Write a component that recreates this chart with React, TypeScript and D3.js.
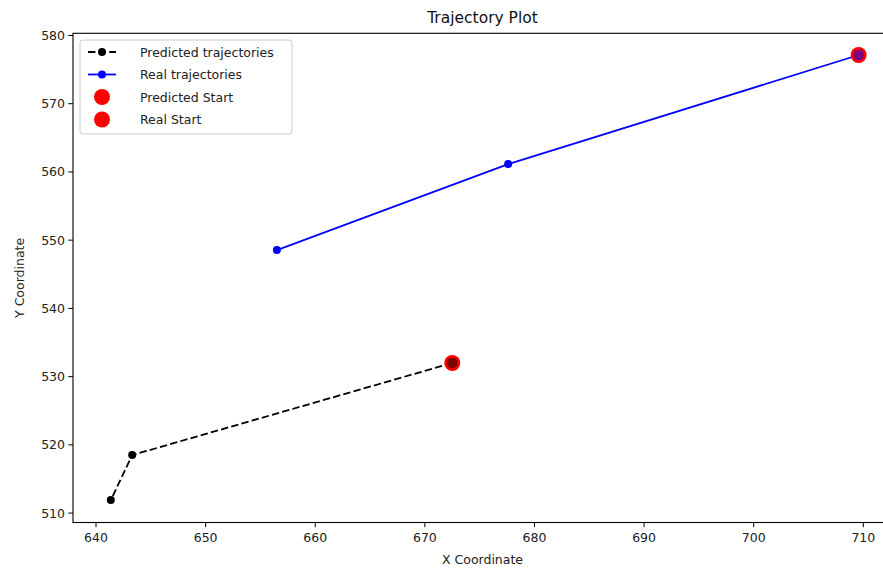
import React from "react";
import * as d3 from "d3";

const W = 883;
const H = 571;

const predX = [672.5, 643.3, 641.35];
const predY = [532.0, 518.5, 511.9];
const realX = [709.57, 677.6, 656.5];
const realY = [577.14, 561.15, 548.55];

const xTicks = [640, 650, 660, 670, 680, 690, 700, 710];
const yTicks = [510, 520, 530, 540, 550, 560, 570, 580];

const legendLabels = ["Predicted trajectories", "Real trajectories", "Predicted Start", "Real Start"];

const titleText = "Trajectory Plot";
const xLabel = "X Coordinate";
const yLabel = "Y Coordinate";

const FONT = "DejaVu Sans, sans-serif";

export default function App() {
  const left = 73;
  const right = 896;
  const top = 33.3;
  const bottom = 522.5;

  const x = d3.scaleLinear().domain([637.9, 712.98]).range([left, right]);
  const y = d3.scaleLinear().domain([508.62, 580.32]).range([bottom, top]);

  const line = d3
    .line<[number, number]>()
    .x((d) => x(d[0]))
    .y((d) => y(d[1]));

  const pred: [number, number][] = predX.map((v, i) => [v, predY[i]]);
  const real: [number, number][] = realX.map((v, i) => [v, realY[i]]);

  const lgX = 80;
  const lgY = 40;
  const rowY = (i: number) => lgY + 12 + i * 22.5;

  return (
    <svg
      width={W}
      height={H}
      style={{ position: "absolute", left: 0, top: 0, background: "#fff" }}
      fontFamily={FONT}
    >
      <rect x={0} y={0} width={W} height={H} fill="#fff" />
      <text x={(left + right) / 2 - 2} y={23} textAnchor="middle" fontSize={15.5} fill="#111">
        {titleText}
      </text>

      {/* ticks */}
      {xTicks.map((t) => (
        <g key={"x" + t}>
          <line x1={x(t)} x2={x(t)} y1={bottom} y2={bottom + 4.7} stroke="#000" strokeWidth={1} />
          <text x={x(t)} y={bottom + 19} textAnchor="middle" fontSize={12.5} fill="#222">
            {t}
          </text>
        </g>
      ))}
      {yTicks.map((t) => (
        <g key={"y" + t}>
          <line x1={left - 4.7} x2={left} y1={y(t)} y2={y(t)} stroke="#000" strokeWidth={1} />
          <text x={left - 8} y={y(t) + 4.5} textAnchor="end" fontSize={12.5} fill="#222">
            {t}
          </text>
        </g>
      ))}

      <text x={(left + right) / 2 - 2} y={564} textAnchor="middle" fontSize={12.5} fill="#222">
        {xLabel}
      </text>
      <text
        transform={`translate(24,${(top + bottom) / 2}) rotate(-90)`}
        textAnchor="middle"
        fontSize={12.5}
        fill="#222"
      >
        {yLabel}
      </text>

      {/* data */}
      <path d={line(pred) || ""} fill="none" stroke="#000" strokeWidth={1.8} strokeDasharray="7.4,3.2" />
      {pred.slice(1).map((d, i) => (
        <circle key={"p" + i} cx={x(d[0])} cy={y(d[1])} r={4} fill="#000" />
      ))}
      <path d={line(real) || ""} fill="none" stroke="#0000ff" strokeWidth={1.8} />
      {real.slice(1).map((d, i) => (
        <circle key={"r" + i} cx={x(d[0])} cy={y(d[1])} r={4} fill="#0000ff" />
      ))}
      <circle cx={x(predX[0])} cy={y(predY[0])} r={8} fill="#ff0000" />
      <circle cx={x(predX[0])} cy={y(predY[0])} r={5.5} fill="#000" fillOpacity={0.5} />
      <circle cx={x(realX[0])} cy={y(realY[0])} r={8} fill="#ff0000" />
      <circle cx={x(realX[0])} cy={y(realY[0])} r={5.5} fill="#0000ff" fillOpacity={0.5} />

      {/* spines */}
      <rect x={left} y={top} width={right - left} height={bottom - top} fill="none" stroke="#000" strokeWidth={1.1} />

      {/* legend */}
      <rect x={lgX} y={lgY} width={212} height={94} rx={3} fill="#fff" fillOpacity={0.8} stroke="#ccc" strokeWidth={1} />
      <line x1={lgX + 8} x2={lgX + 36} y1={rowY(0)} y2={rowY(0)} stroke="#000" strokeWidth={1.8} strokeDasharray="7.4,3.2" />
      <circle cx={lgX + 22} cy={rowY(0)} r={4} fill="#000" />
      <line x1={lgX + 8} x2={lgX + 36} y1={rowY(1)} y2={rowY(1)} stroke="#0000ff" strokeWidth={1.8} />
      <circle cx={lgX + 22} cy={rowY(1)} r={4} fill="#0000ff" />
      <circle cx={lgX + 22} cy={rowY(2)} r={8} fill="#ff0000" />
      <circle cx={lgX + 22} cy={rowY(3)} r={8} fill="#ff0000" />
      {legendLabels.map((l, i) => (
        <text key={l} x={lgX + 60} y={rowY(i) + 4.5} fontSize={12.5} fill="#222">
          {l}
        </text>
      ))}
    </svg>
  );
}
